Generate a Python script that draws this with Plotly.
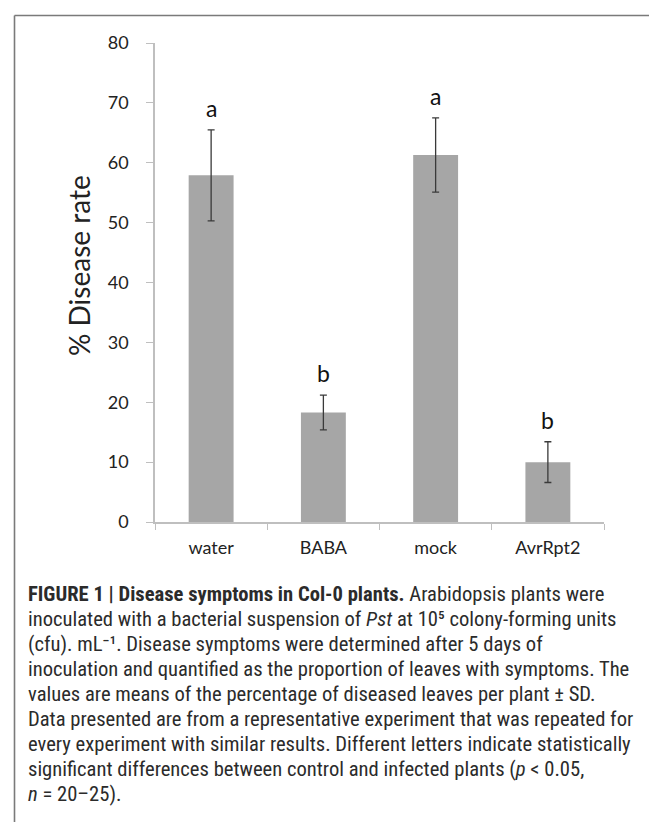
import plotly.graph_objects as go

categories = ["water", "BABA", "mock", "AvrRpt2"]
means = [57.9, 18.3, 61.3, 10.0]
sds = [7.6, 2.9, 6.2, 3.4]
letters = ["a", "b", "a", "b"]
y_ticks = [0, 10, 20, 30, 40, 50, 60, 70, 80]
y_title = "% Disease rate"

caption_lines = [
    "<b>FIGURE 1 | Disease symptoms in Col-0 plants.</b> Arabidopsis plants were",
    "inoculated with a bacterial suspension of <i>Pst</i> at 10\u2075 colony-forming units",
    "(cfu). mL\u207b\u00b9. Disease symptoms were determined after 5 days of",
    "inoculation and quantified as the proportion of leaves with symptoms. The",
    "values are means of the percentage of diseased leaves per plant \u00b1 SD.",
    "Data presented are from a representative experiment that was repeated for",
    "every experiment with similar results. Different letters indicate statistically",
    "significant differences between control and infected plants (<i>p</i> &lt; 0.05,",
    "<i>n</i> = 20\u201325).",
]

W, H = 657, 822
L, R, T, B = 147, 596, 35, 514  # plot area in px


def px_x(x):
    return (x - L) / (R - L)


def px_y(y):
    return (B - y) / (B - T)


chart_font = "Lato, 'Open Sans', sans-serif"
cap_font = "'Liberation Sans Narrow', 'Roboto Condensed', Roboto, sans-serif"

fig = go.Figure()
fig.add_trace(go.Bar(
    x=categories, y=means,
    marker=dict(color="#a6a6a6", line=dict(width=0)),
    error_y=dict(type="data", array=sds, visible=True, color="#3a3a3a",
                 thickness=1.3, width=3.5),
    showlegend=False,
))

annotations = []
for c, m, s, l in zip(categories, means, sds, letters):
    annotations.append(dict(
        x=c, y=m + s, xref="x", yref="y", text=l, showarrow=False,
        yanchor="bottom", yshift=6,
        font=dict(family=chart_font, size=23, color="#111111"),
    ))

# y-axis title
annotations.append(dict(
    x=px_x(71), y=px_y(258), xref="paper", yref="paper", text=y_title,
    textangle=-90, showarrow=False, xanchor="center", yanchor="middle",
    font=dict(family=chart_font, size=28, color="#222222"),
))

for i, line in enumerate(caption_lines):
    annotations.append(dict(
        x=px_x(18), y=px_y(586 + 25 * i), xref="paper", yref="paper",
        xanchor="left", yanchor="middle", text=line, showarrow=False,
        font=dict(family=cap_font, size=20.6, color="#2b2b2b"),
    ))

shapes = [
    dict(type="line", xref="paper", yref="paper",
         x0=px_x(6.5), x1=px_x(6.5), y0=px_y(830), y1=px_y(7.5),
         line=dict(color="#7a7a7a", width=1.6)),
    dict(type="line", xref="paper", yref="paper",
         x0=px_x(6.5), x1=px_x(665), y0=px_y(7.5), y1=px_y(7.5),
         line=dict(color="#7a7a7a", width=1.6)),
]

fig.update_layout(
    width=W, height=H,
    margin=dict(l=L, r=W - R, t=T, b=H - B, pad=0),
    paper_bgcolor="white", plot_bgcolor="white",
    bargap=0.6,
    annotations=annotations,
    shapes=shapes,
    font=dict(family=chart_font, color="#222222"),
)
fig.update_xaxes(
    showline=True, linecolor="#bfbfbf", linewidth=1.5,
    ticks="outside", tickson="boundaries", ticklen=6, tickcolor="#bfbfbf",
    tickwidth=1.2, showgrid=False, ticklabelstandoff=9,
    tickfont=dict(family=chart_font, size=18, color="#222222"),
)
fig.update_yaxes(
    range=[0, 80], tickvals=y_ticks, showline=True, linecolor="#bfbfbf",
    linewidth=1.5, ticks="outside", ticklen=7, tickcolor="#bfbfbf",
    tickwidth=1.2, showgrid=False, zeroline=False, ticklabelstandoff=14,
    tickfont=dict(family=chart_font, size=18, color="#222222"),
)

fig.write_html("out.html")
